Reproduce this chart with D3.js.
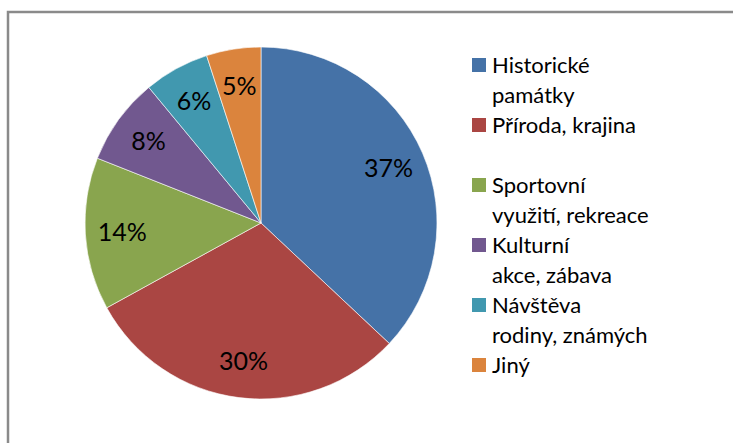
<!DOCTYPE html>
<html>
<head>
<meta charset="utf-8">
<script src="https://cdn.jsdelivr.net/npm/d3@7"></script>
<style>
  body { margin: 0; background: #fff; }
  svg { display: block; font-family: Lato, 'Open Sans', sans-serif; }
</style>
</head>
<body>
<div id="chart"></div>
<script>
const categories = ['Historické památky', 'Příroda, krajina', 'Sportovní využití, rekreace', 'Kulturní akce, zábava', 'Návštěva rodiny, známých', 'Jiný'];
const values = [37, 30, 14, 8, 6, 5];
const colors = ['#4572A7', '#AA4643', '#89A54E', '#71588F', '#4198AF', '#DB843D'];
// legend rows as Excel wrapped them (second entry leaves an empty line)
const legendLines = [
  ['Historické', 'památky'],
  ['Příroda, krajina', ''],
  ['Sportovní', 'využití, rekreace'],
  ['Kulturní', 'akce, zábava'],
  ['Návštěva', 'rodiny, známých'],
  ['Jiný']
];

drawPie();

function drawPie() {
  const width = 733;
  const height = 443;
  const center = { x: 261, y: 223 };
  const radius = 176;
  const labelRadius = 139;

  const svg = d3.select('#chart').append('svg')
      .attr('width', width)
      .attr('height', height);

  // chart frame, runs off the right and bottom edges
  svg.append('rect')
      .attr('x', 8)
      .attr('y', 12)
      .attr('width', width + 20)
      .attr('height', height + 20)
      .attr('fill', 'none')
      .attr('stroke', '#8a8a8a')
      .attr('stroke-width', 2.5);

  const data = categories.map((c, i) => ({ name: c, value: values[i] }));
  const pie = d3.pie().value(d => d.value).sort(null);
  const arc = d3.arc().innerRadius(0).outerRadius(radius);
  const labelArc = d3.arc().innerRadius(labelRadius).outerRadius(labelRadius);
  const color = d3.scaleOrdinal(categories, colors);

  const g = svg.append('g')
      .attr('transform', `translate(${center.x}, ${center.y})`);

  const slices = pie(data);

  g.selectAll('path')
    .data(slices)
    .join('path')
      .attr('d', arc)
      .attr('fill', d => color(d.data.name))
      .attr('stroke', '#ffffff')
      .attr('stroke-width', 0.6);

  g.selectAll('text')
    .data(slices)
    .join('text')
      .attr('transform', d => `translate(${labelArc.centroid(d)})`)
      .attr('dy', '0.36em')
      .style('text-anchor', 'middle')
      .style('font-size', '25px')
      .style('fill', '#000')
      .text(d => d.data.value + '%');

  // Legend
  const legendX = 472;
  const firstBaseline = 73;
  const lineHeight = 30;
  const legend = svg.append('g');
  let row = 0;
  legendLines.forEach((lines, i) => {
    const baseline = firstBaseline + row * lineHeight;
    legend.append('rect')
        .attr('x', legendX)
        .attr('y', baseline - 15)
        .attr('width', 14)
        .attr('height', 14)
        .attr('fill', colors[i]);
    const text = legend.append('text')
        .attr('x', legendX + 20)
        .attr('y', baseline)
        .style('font-size', '22px')
        .style('fill', '#000');
    lines.forEach((line, j) => {
      text.append('tspan')
          .attr('x', legendX + 20)
          .attr('y', baseline + j * lineHeight)
          .text(line);
    });
    row += lines.length;
  });
}
</script>
</body>
</html>
